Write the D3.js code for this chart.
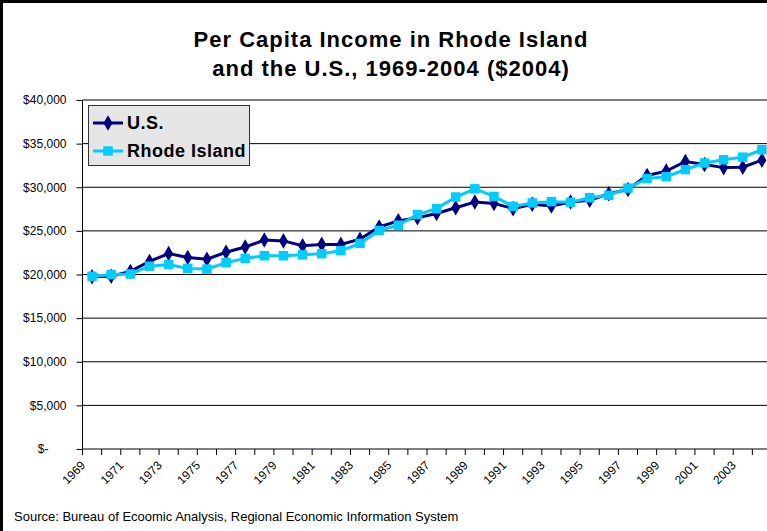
<!DOCTYPE html>
<meta charset="utf-8">
<style>
body { margin: 0; background: #fff; }
svg { display: block; }
.axis path, .axis line { stroke: #000; }
.axis text { font-family: "Liberation Sans", Arial, sans-serif; font-size: 12px; fill: #000; }
.grid line { stroke: #000; stroke-width: 1; }
</style>
<svg width="767" height="531"></svg>
<script src="https://d3js.org/d3.v7.min.js"></script>
<script>

var years = d3.range(1969, 2005);

var usIncome = [19750, 19800, 20350, 21500, 22400, 21950, 21750, 22550, 23150,
  23950, 23850, 23300, 23450, 23450, 24050, 25450, 26150, 26500, 27000, 27650,
  28300, 28150, 27550, 28050, 27850, 28300, 28500, 29250, 29750, 31350, 31850,
  32950, 32600, 32250, 32300, 33100];

var riIncome = [19800, 20000, 20060, 20950, 21150, 20700, 20620, 21350, 21850,
  22150, 22150, 22250, 22380, 22730, 23570, 25050, 25650, 26870, 27550, 28880,
  29820, 28950, 27800, 28200, 28350, 28280, 28800, 29080, 29900, 31000, 31200,
  32020, 32780, 33150, 33450, 34300];

var yTicks = d3.range(0, 40001, 5000);

var series = [
  { name: "U.S.", values: usIncome, color: "#000080", shape: d3.symbolDiamond, size: 70 },
  { name: "Rhode Island", values: riIncome, color: "#00ccff", shape: d3.symbolSquare, size: 90 }
];

var svg = d3.select("svg");

var plotLeft = 82.5, plotRight = 771.5, plotTop = 100, plotBottom = 449;

var x = d3.scaleBand().domain(years).range([plotLeft, plotRight]);
var y = d3.scaleLinear().domain([0, 40000]).range([plotBottom, plotTop]);
var cx = function(yr) { return x(yr) + x.bandwidth() / 2; };

// outer frame
svg.append("rect")
    .attr("x", 1.5).attr("y", 1.5)
    .attr("width", 800).attr("height", 600)
    .attr("fill", "none").attr("stroke", "#000").attr("stroke-width", 3);

// title
var titleLines = ["Per Capita Income in Rhode Island", "and the U.S., 1969-2004 ($2004)"];
svg.selectAll("text.title")
  .data(titleLines)
  .enter().append("text")
    .attr("class", "title")
    .attr("x", 391)
    .attr("y", function(d, i) { return 47 + i * 29; })
    .attr("text-anchor", "middle")
    .style("font-family", "'Liberation Sans', Arial, sans-serif")
    .style("font-weight", "bold").style("font-size", "22px")
    .style("letter-spacing", "1px")
    .text(function(d) { return d; });

// gridlines
svg.append("g").attr("class", "grid")
  .selectAll("line")
  .data(yTicks.filter(function(d) { return d > 0; }))
  .enter().append("line")
    .attr("x1", plotLeft).attr("x2", plotRight)
    .attr("y1", function(d) { return y(d); })
    .attr("y2", function(d) { return y(d); });

// y axis
var yAxis = svg.append("g").attr("class", "axis")
    .attr("transform", "translate(" + plotLeft + ",0)")
    .call(d3.axisLeft(y).tickValues(yTicks).tickSize(6).tickPadding(10)
      .tickFormat(function(d) { return d === 0 ? "$-" : "$" + d3.format(",")(d); }));
yAxis.select(".domain").attr("d", "M0," + plotTop + "V" + plotBottom);
yAxis.selectAll(".tick text").filter(function(d) { return d === 0; })
    .attr("dx", -18);

// x axis
var xAxis = svg.append("g").attr("class", "axis")
    .attr("transform", "translate(0," + plotBottom + ")")
    .call(d3.axisBottom(x).tickSize(0).tickPadding(0)
      .tickFormat(function(d) { return (d - 1969) % 2 === 0 ? d : ""; }));
xAxis.select(".domain").attr("d", "M" + plotLeft + ",0H" + plotRight);
xAxis.selectAll(".tick text")
    .attr("text-anchor", "end")
    .attr("dy", 0)
    .attr("transform", "translate(-6,17) rotate(-45)");
xAxis.selectAll(".bt")
  .data(years.concat([2005]))
  .enter().append("line")
    .attr("class", "bt")
    .attr("x1", function(d) { return d === 2005 ? plotRight : x(d); })
    .attr("x2", function(d) { return d === 2005 ? plotRight : x(d); })
    .attr("y1", 0).attr("y2", 6)
    .attr("stroke", "#000");

// lines and markers
var line = d3.line()
    .x(function(d, i) { return cx(years[i]); })
    .y(function(d) { return y(d); });

series.forEach(function(s) {
  var g = svg.append("g");
  g.append("path")
      .datum(s.values)
      .attr("fill", "none")
      .attr("stroke", s.color)
      .attr("stroke-width", 3)
      .attr("d", line);
  g.selectAll("path.m")
    .data(s.values)
    .enter().append("path")
      .attr("class", "m")
      .attr("d", d3.symbol().type(s.shape).size(s.size))
      .attr("fill", s.color)
      .attr("transform", function(d, i) { return "translate(" + cx(years[i]) + "," + y(d) + ")"; });
});

// legend
var legend = svg.append("g");
legend.append("rect")
    .attr("x", 88.5).attr("y", 105.5)
    .attr("width", 161).attr("height", 60)
    .attr("fill", "#e6e6e6").attr("stroke", "#333");
series.forEach(function(s, i) {
  var ly = 123 + i * 28;
  legend.append("line")
      .attr("x1", 93).attr("x2", 123)
      .attr("y1", ly).attr("y2", ly)
      .attr("stroke", s.color).attr("stroke-width", 3);
  legend.append("path")
      .attr("d", d3.symbol().type(s.shape).size(s.size))
      .attr("fill", s.color)
      .attr("transform", "translate(108," + ly + ")");
  legend.append("text")
      .attr("x", 127).attr("y", ly + 6)
      .style("font-family", "'Liberation Sans', Arial, sans-serif")
      .style("font-weight", "bold").style("font-size", "18px")
      .style("letter-spacing", "0.5px")
      .text(s.name);
});

// source note
svg.append("text")
    .attr("x", 14).attr("y", 521)
    .style("font-family", "'Liberation Sans', Arial, sans-serif")
    .style("font-size", "13px")
    .text("Source: Bureau of Ecoomic Analysis, Regional Economic Information System");

</script>
